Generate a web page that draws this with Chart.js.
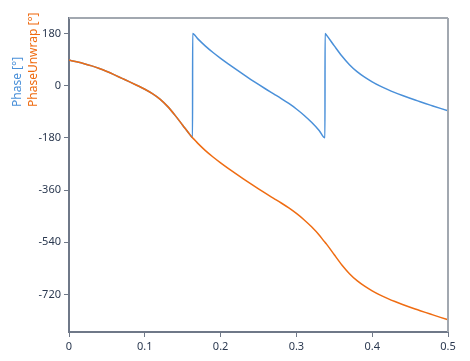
<!DOCTYPE html>
<html>
<head>
<meta charset="utf-8">
<script src="https://cdn.jsdelivr.net/npm/chart.js@4/dist/chart.umd.min.js"></script>
<style>
html,body{margin:0;padding:0;background:#fff;}
#wrap{position:relative;width:470px;height:361px;}
</style>
</head>
<body>
<div id="wrap"><canvas id="c" width="470" height="361"></canvas></div>
<script>
const freq = [0,0.01,0.02,0.03,0.04,0.05,0.06,0.07,0.08,0.09,0.10,0.11,0.12,0.13,0.14,0.15,0.16,0.163,0.1631,0.17,0.18,0.19,0.20,0.21,0.22,0.23,0.24,0.25,0.26,0.27,0.28,0.29,0.30,0.31,0.32,0.33,0.3377,0.3378,0.34,0.35,0.36,0.37,0.38,0.39,0.40,0.41,0.42,0.43,0.44,0.45,0.46,0.47,0.48,0.49,0.50];
const phase = [88,82,75.5,68,59,48.5,37,25,13,0.5,-12.5,-27.5,-46.5,-71.5,-102.5,-136.5,-170.5,-179.9,179.9,161,136,114,94,75,56.5,38.5,21,4,-12.5,-28.5,-44.5,-61.5,-80.5,-102,-126.5,-154.5,-179.9,179.9,173,137,102,72,48,29,13,-1,-13,-24,-34,-43.5,-52.5,-61.5,-70,-78.5,-87];
const phaseUnwrap = [88,82,75.5,68,59,48.5,37,25,13,0.5,-12.5,-27.5,-46.5,-71.5,-102.5,-136.5,-170.5,-179.9,-180.1,-199,-224,-246,-266,-285,-303.5,-321.5,-339,-356,-372.5,-388.5,-404.5,-421.5,-440.5,-462,-486.5,-514.5,-539.9,-540.1,-547,-583,-618,-648,-672,-691,-707,-721,-733,-744,-754,-763.5,-772.5,-781.5,-790,-798.5,-807];
const xTicks = [0,0.1,0.2,0.3,0.4,0.5];
const xTickLabels = ["0","0.1","0.2","0.3","0.4","0.5"];
const yTicks = [180,0,-180,-360,-540,-720];
const yTickLabels = ["180","0","-180","-360","-540","-720"];
const yTitles = ["Phase [°]","PhaseUnwrap [°]"];

const BLUE = "#4a90d9";
const ORANGE = "#ef6c12";
const AXIS = "#6f7888";
const TICKTXT = "#2b3950";

const framePlugin = {
  id:'frame',
  afterDraw(chart){
    const {ctx, chartArea:a} = chart;
    ctx.save();
    ctx.strokeStyle = "#a2a8b0";
    ctx.lineWidth = 2;
    ctx.beginPath();
    ctx.moveTo(a.left, a.top); ctx.lineTo(a.right, a.top);
    ctx.moveTo(a.right, a.top); ctx.lineTo(a.right, a.bottom);
    ctx.stroke();
    ctx.font = "12px 'Noto Sans', 'Open Sans', sans-serif";
    ctx.textAlign = "left";
    ctx.textBaseline = "middle";
    const cols = [BLUE, ORANGE];
    const xs = [18, 34];
    for (let i=0;i<2;i++){
      ctx.save();
      ctx.translate(xs[i], 107);
      ctx.rotate(-Math.PI/2);
      ctx.fillStyle = cols[i];
      ctx.fillText(yTitles[i], 0, 0);
      ctx.restore();
    }
    ctx.restore();
  }
};

new Chart(document.getElementById('c'), {
  type:'line',
  data:{
    datasets:[
      {label:'Phase', data: freq.map((f,i)=>({x:f,y:phase[i]})), borderColor:BLUE, borderWidth:1.5, pointRadius:0, order:2, cubicInterpolationMode:'monotone'},
      {label:'PhaseUnwrap', data: freq.map((f,i)=>({x:f,y:phaseUnwrap[i]})), borderColor:ORANGE, borderWidth:1.5, pointRadius:0, order:1, cubicInterpolationMode:'monotone'}
    ]
  },
  options:{
    responsive:false,
    animation:false,
    layout:{padding:{top:18,right:22,left:0,bottom:0}},
    plugins:{legend:{display:false}, tooltip:{enabled:false}},
    scales:{
      x:{
        type:'linear', min:0, max:0.5,
        afterBuildTicks(s){ s.ticks = xTicks.map(v=>({value:v})); },
        afterFit(s){ s.height = 29; },
        ticks:{ callback:(v,i)=>xTickLabels[i], color:TICKTXT, font:{family:"'Noto Sans', sans-serif", size:11}, padding:3, maxRotation:0 },
        grid:{ drawOnChartArea:false, drawTicks:true, tickLength:5, color:AXIS, lineWidth:1 },
        border:{ display:true, color:AXIS, width:2 }
      },
      y:{
        type:'linear', min:-849, max:233,
        afterBuildTicks(s){ s.ticks = yTicks.map(v=>({value:v})); },
        afterFit(s){ s.width = 69; },
        ticks:{ callback:(v,i)=>yTickLabels[i], color:TICKTXT, font:{family:"'Noto Sans', sans-serif", size:11}, padding:3 },
        grid:{ drawOnChartArea:false, drawTicks:true, tickLength:5, color:AXIS, lineWidth:1 },
        border:{ display:true, color:AXIS, width:2 }
      }
    }
  },
  plugins:[framePlugin]
});
</script>
</body>
</html>
